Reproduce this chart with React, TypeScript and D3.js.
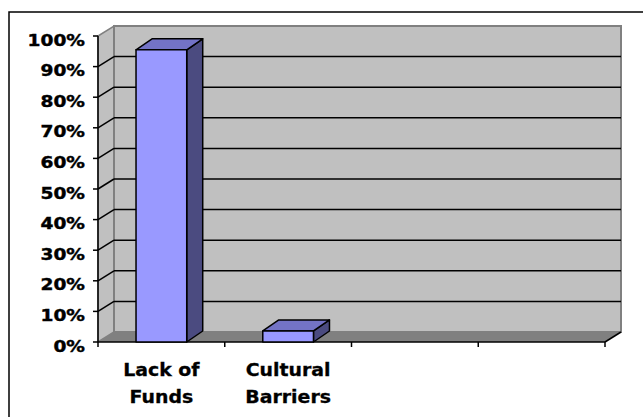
import React from "react";
import * as d3 from "d3";

const categories = ["Lack of Funds", "Cultural Barriers", "", ""];
const categoryLines = [["Lack of", "Funds"], ["Cultural", "Barriers"], [], []];
const values = [0.955, 0.036, null, null];
const yTicks = [0, 0.1, 0.2, 0.3, 0.4, 0.5, 0.6, 0.7, 0.8, 0.9, 1.0];

const W = 643;
const H = 417;
const X0 = 98;
const X1 = 605;
const Y0 = 342;
const Y1 = 36;
const DX = 16;
const DY = -10;
const BDX = 16;
const BDY = -11;

export default function App() {
  const x = d3.scaleBand<string>().domain(categories.map((c, i) => String(i))).range([X0, X1]).paddingInner(0.6).paddingOuter(0.3);
  const y = d3.scaleLinear().domain([0, 1]).range([Y0, Y1]);
  const bw = x.bandwidth();
  const fmt = d3.format(".0%");
  const font = "'DejaVu Sans', Verdana, sans-serif";

  const sideWall = [[X0, Y0], [X0, Y1], [X0 + DX, Y1 + DY], [X0 + DX, Y0 + DY]];
  const floor = [[X0, Y0], [X0 + DX, Y0 + DY], [X1 + DX, Y0 + DY], [X1, Y0]];
  const poly = (pts: number[][]) => pts.map((p) => p.join(",")).join(" ");

  return (
    <svg width={W} height={H} style={{ position: "absolute", left: 0, top: 0, background: "#fff" }}>
      <rect x={9} y={12} width={700} height={500} fill="#fff" stroke="#000" strokeWidth={1.5} />
      <polygon points={poly(sideWall)} fill="#c0c0c0" stroke="#808080" strokeWidth={1.5} />
      <rect x={X0 + DX} y={Y1 + DY} width={X1 - X0} height={Y0 - Y1} fill="#c0c0c0" stroke="#808080" strokeWidth={2} />
      <polygon points={poly(floor)} fill="#808080" stroke="none" />
      {yTicks.filter((t) => t > 0 && t < 1).map((t) => (
        <g key={t}>
          <line x1={X0} y1={y(t)} x2={X0 + DX} y2={y(t) + DY} stroke="#000" strokeWidth={1.5} />
          <line x1={X0 + DX} y1={y(t) + DY} x2={X1 + DX} y2={y(t) + DY} stroke="#000" strokeWidth={1.5} />
        </g>
      ))}
      <line x1={X0} y1={Y0} x2={X1} y2={Y0} stroke="#000" strokeWidth={1.5} />
      <line x1={X1} y1={Y0} x2={X1 + DX} y2={Y0 + DY} stroke="#000" strokeWidth={1.5} />
      {values.map((v, i) => {
        if (v == null) return null;
        const bx = x(String(i)) as number;
        const yv = y(v);
        const front = [[bx, yv], [bx + bw, yv], [bx + bw, Y0], [bx, Y0]];
        const top = [[bx, yv], [bx + BDX, yv + BDY], [bx + bw + BDX, yv + BDY], [bx + bw, yv]];
        const side = [[bx + bw, yv], [bx + bw + BDX, yv + BDY], [bx + bw + BDX, Y0 + BDY], [bx + bw, Y0]];
        return (
          <g key={i} stroke="#000" strokeWidth={1.5} strokeLinejoin="round">
            <polygon points={poly(side)} fill="#4b4b80" />
            <polygon points={poly(top)} fill="#7373c6" />
            <polygon points={poly(front)} fill="#9999ff" />
          </g>
        );
      })}
      <line x1={X0} y1={Y0} x2={X0} y2={Y1} stroke="#000" strokeWidth={1.5} />
      {yTicks.map((t) => (
        <g key={t}>
          <line x1={X0 - 5} y1={y(t)} x2={X0} y2={y(t)} stroke="#000" strokeWidth={1.5} />
          <text
            transform={`translate(85,${y(t) + 9.5}) scale(1.2,1)`}
            textAnchor="end"
            fontFamily={font}
            fontWeight="bold"
            fontSize={15.5}
            fill="#000"
            stroke="#000"
            strokeWidth={0.4}
          >
            {fmt(t)}
          </text>
        </g>
      ))}
      {d3.range(categories.length + 1).map((i) => (
        <line key={i} x1={X0 + i * (X1 - X0) / categories.length} y1={Y0} x2={X0 + i * (X1 - X0) / categories.length} y2={Y0 + 5} stroke="#000" strokeWidth={1.5} />
      ))}
      {categoryLines.map((ls, i) => {
        const cx = (x(String(i)) as number) + bw / 2;
        return (
          <g key={i}>
            {ls.map((l, j) => (
              <text
                key={j}
                transform={`translate(${cx},${376 + j * 27}) scale(1.08,1)`}
                textAnchor="middle"
                fontFamily={font}
                fontWeight="bold"
                fontSize={17.5}
                fill="#000"
                stroke="#000"
                strokeWidth={0.3}
              >
                {l}
              </text>
            ))}
          </g>
        );
      })}
    </svg>
  );
}
